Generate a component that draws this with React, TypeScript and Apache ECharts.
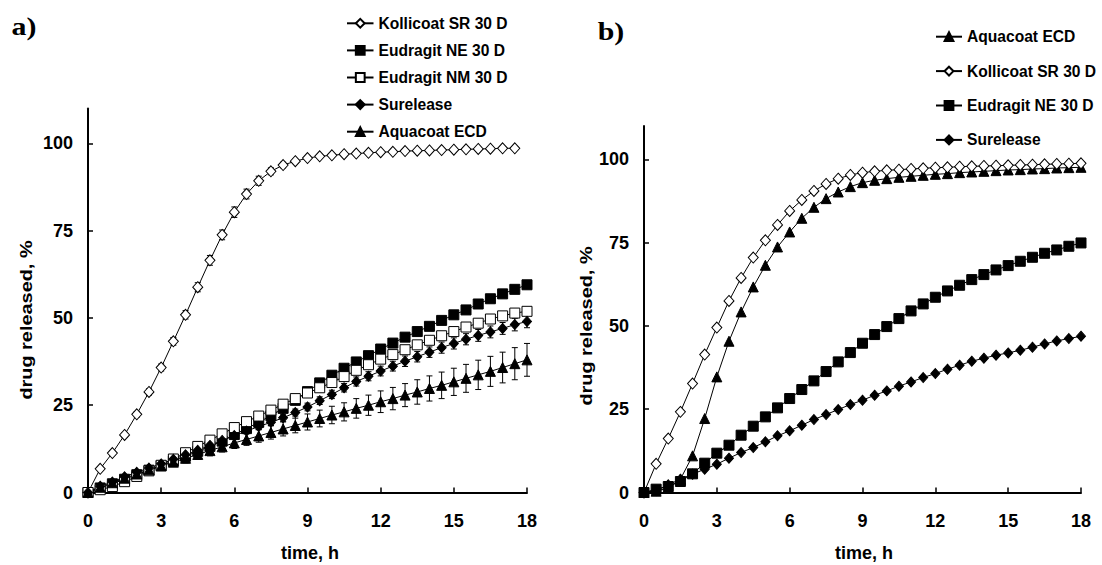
import React, { useEffect, useRef } from "react";
import * as echarts from "echarts";

// time points, h
const timesA = [0, 0.5, 1, 1.5, 2, 2.5, 3, 3.5, 4, 4.5, 5, 5.5, 6, 6.5, 7, 7.5, 8, 8.5, 9, 9.5, 10, 10.5, 11, 11.5, 12, 12.5, 13, 13.5, 14, 14.5, 15, 15.5, 16, 16.5, 17, 17.5, 18];
const timesB = timesA;
const xTicks = [0, 3, 6, 9, 12, 15, 18];
const yTicks = [0, 25, 50, 75, 100];

// panel a)
const kollicoatA = [0, 6.8, 11.3, 16.5, 22.4, 28.8, 35.8, 43.3, 50.9, 58.8, 66.5, 73.8, 80.3, 85.5, 89.3, 92.0, 93.8, 94.9, 95.8, 96.3, 96.6, 96.9, 97.1, 97.3, 97.5, 97.6, 97.8, 97.9, 98.0, 98.1, 98.2, 98.3, 98.4, 98.5, 98.6, 98.6];
const kollicoatErrA = [0, 0.5, 0.6, 0.7, 0.8, 0.9, 1.0, 1.1, 1.2, 1.3, 1.4, 1.4, 1.5, 1.4, 1.3, 1.0, 0.8, 0.6, 0.5, 0.5, 0.4, 0.4, 0.4, 0.4, 0.4, 0.4, 0.4, 0.4, 0.4, 0.4, 0.4, 0.4, 0.4, 0.4, 0.4, 0.4];
const eudragitNEA = [0, 1.3, 2.5, 3.8, 5.1, 6.4, 7.7, 9.0, 10.4, 11.8, 13.2, 14.7, 16.6, 18.3, 20.1, 22.0, 24.1, 26.4, 28.9, 31.4, 33.6, 35.6, 37.4, 39.2, 41.1, 42.8, 44.5, 46.1, 47.6, 49.3, 50.9, 52.3, 54.0, 55.5, 56.9, 58.2, 59.5];
const eudragitNMA = [0, 0.8, 1.7, 3.1, 4.6, 6.2, 7.8, 9.6, 11.4, 13.2, 15.0, 16.8, 18.6, 20.3, 21.9, 23.6, 25.3, 26.9, 28.5, 30.0, 31.5, 33.2, 35.0, 36.6, 38.2, 39.5, 40.9, 42.3, 43.6, 44.9, 46.1, 47.4, 48.5, 49.7, 50.6, 51.4, 51.9];
const sureleaseA = [0, 1.8, 3.0, 4.5, 5.8, 7.0, 8.2, 9.5, 10.8, 12.1, 13.5, 14.9, 16.3, 17.6, 18.9, 20.1, 21.4, 22.9, 24.5, 26.3, 28.1, 30.0, 31.8, 33.3, 34.8, 36.2, 37.6, 38.9, 40.2, 41.5, 42.7, 43.9, 45.0, 46.0, 47.0, 48.1, 49.0];
const sureleaseErrA = [0, 0.2, 0.3, 0.3, 0.4, 0.4, 0.5, 0.5, 0.6, 0.6, 0.7, 0.7, 0.8, 0.8, 0.9, 0.9, 1.0, 1.0, 1.1, 1.1, 1.2, 1.2, 1.3, 1.3, 1.4, 1.4, 1.5, 1.5, 1.5, 1.6, 1.6, 1.6, 1.7, 1.7, 1.7, 1.8, 1.8];
const aquacoatA = [0, 1.5, 2.8, 4.1, 5.3, 6.5, 7.6, 8.7, 9.8, 10.9, 12.0, 13.1, 14.2, 15.2, 16.2, 17.2, 18.2, 19.2, 20.2, 21.2, 22.2, 23.1, 24.1, 25.0, 26.0, 26.9, 27.9, 28.8, 29.8, 30.7, 31.7, 32.7, 33.7, 34.7, 35.8, 36.9, 38.0];
const aquacoatErrA = [0, 0.4, 0.6, 0.8, 0.9, 1.0, 1.1, 1.2, 1.3, 1.4, 1.5, 1.5, 1.6, 1.7, 1.8, 1.9, 2.0, 2.1, 2.3, 2.4, 2.5, 2.6, 2.8, 2.9, 3.1, 3.2, 3.3, 3.5, 3.6, 3.8, 3.9, 4.0, 4.2, 4.3, 4.4, 4.6, 4.7];

// panel b)
const aquacoatB = [0, 0.4, 1.4, 4.0, 11.0, 22.2, 34.7, 45.4, 54.2, 61.7, 68.2, 73.7, 78.2, 82.3, 85.6, 88.2, 90.2, 91.8, 93.0, 93.7, 94.2, 94.6, 94.9, 95.2, 95.5, 95.7, 96.0, 96.2, 96.4, 96.6, 96.8, 96.9, 97.1, 97.2, 97.4, 97.5, 97.6];
const kollicoatB = [0, 8.6, 16.2, 24.2, 32.7, 41.4, 49.5, 57.5, 64.4, 70.5, 75.7, 80.3, 84.5, 87.8, 90.5, 92.6, 94.2, 95.3, 96.0, 96.4, 96.7, 96.9, 97.1, 97.3, 97.5, 97.6, 97.8, 97.9, 98.0, 98.1, 98.2, 98.3, 98.4, 98.5, 98.6, 98.7, 98.8];
const eudragitNEB = [0, 1.0, 1.8, 3.3, 5.6, 8.8, 11.8, 14.2, 17.2, 19.9, 22.7, 25.4, 28.2, 30.9, 33.5, 36.3, 39.2, 42.0, 44.8, 47.4, 49.8, 52.2, 54.5, 56.6, 58.6, 60.5, 62.2, 63.9, 65.4, 66.8, 68.1, 69.4, 70.6, 71.8, 72.8, 73.9, 74.9];
const sureleaseB = [0, 0.6, 2.3, 4.0, 5.5, 7.0, 8.5, 10.3, 12.0, 13.5, 15.2, 17.0, 18.5, 20.2, 21.9, 23.4, 24.9, 26.4, 27.7, 29.2, 30.5, 31.9, 33.2, 34.5, 35.7, 37.0, 38.2, 39.4, 40.3, 41.2, 41.9, 42.7, 43.6, 44.6, 45.5, 46.2, 46.9];

const legendA = ["Kollicoat SR 30 D", "Eudragit NE 30 D", "Eudragit NM 30 D", "Surelease", "Aquacoat ECD"];
const legendB = ["Aquacoat ECD", "Kollicoat SR 30 D", "Eudragit NE 30 D", "Surelease"];

const FONT = '"Liberation Sans", Arial, Helvetica, sans-serif';
const SERIF = '"Liberation Serif", "Times New Roman", serif';

const pairs = (t: number[], v: number[]) => v.map((y, i) => [t[i], y]);
const triples = (t: number[], v: number[], e: number[]) => v.map((y, i) => [t[i], y, e[i]]);

const STYLE: Record<string, { symbol: string; size: any; fill: string }> = {
  "Kollicoat SR 30 D": { symbol: "diamond", size: [10, 11], fill: "#fff" },
  "Eudragit NE 30 D": { symbol: "rect", size: 10, fill: "#000" },
  "Eudragit NM 30 D": { symbol: "rect", size: 10, fill: "#fff" },
  Surelease: { symbol: "diamond", size: [9, 10], fill: "#000" },
  "Aquacoat ECD": { symbol: "triangle", size: 10, fill: "#000" },
};

function lineSeries(name: string, data: number[][], gi: number) {
  const s = STYLE[name];
  return {
    type: "line",
    name,
    xAxisIndex: gi,
    yAxisIndex: gi,
    data,
    symbol: s.symbol,
    symbolSize: s.size,
    showAllSymbol: true,
    lineStyle: { color: "#000", width: 1 },
    itemStyle: { color: s.fill, borderColor: "#000", borderWidth: 1 },
    emphasis: { disabled: true },
    z: 3,
  };
}

function errSeries(id: string, data: number[][], gi: number) {
  return {
    type: "custom",
    name: id,
    xAxisIndex: gi,
    yAxisIndex: gi,
    data,
    z: 2,
    silent: true,
    renderItem: (params: any, api: any) => {
      const x = api.value(0);
      const y = api.value(1);
      const e = api.value(2);
      const top = api.coord([x, y + e]);
      const bot = api.coord([x, y - e]);
      const st = { stroke: "#000", lineWidth: 1 };
      return {
        type: "group",
        children: [
          { type: "line", shape: { x1: top[0], y1: top[1], x2: bot[0], y2: bot[1] }, style: st },
          { type: "line", shape: { x1: top[0] - 3, y1: top[1], x2: top[0] + 3, y2: top[1] }, style: st },
          { type: "line", shape: { x1: bot[0] - 3, y1: bot[1], x2: bot[0] + 3, y2: bot[1] }, style: st },
        ],
      };
    },
  };
}

function xAxis(gi: number) {
  return {
    type: "value",
    gridIndex: gi,
    min: 0,
    max: 18,
    interval: 3,
    axisLine: { show: true, lineStyle: { color: "#000", width: 2 } },
    axisTick: { show: true, inside: true, length: 5, lineStyle: { color: "#000", width: 1.5 }, customValues: xTicks },
    axisLabel: { color: "#000", fontFamily: FONT, fontWeight: "bold", fontSize: 18, margin: 19, customValues: xTicks },
    splitLine: { show: false },
  };
}

function yAxis(gi: number) {
  return {
    type: "value",
    gridIndex: gi,
    min: 0,
    max: 110,
    interval: 25,
    axisLine: { show: true, lineStyle: { color: "#000", width: 2 } },
    axisTick: { show: true, inside: true, length: 5, lineStyle: { color: "#000", width: 1.5 }, customValues: yTicks },
    axisLabel: { color: "#000", fontFamily: FONT, fontWeight: "bold", fontSize: 18, margin: 15, customValues: yTicks },
    splitLine: { show: false },
  };
}

function legend(data: string[], left: number, top: number, gap: number, w: number) {
  return {
    orient: "vertical",
    left,
    top,
    data,
    itemWidth: w,
    itemHeight: 11,
    itemGap: gap,
    selectedMode: false,
    textStyle: { color: "#000", fontFamily: FONT, fontWeight: "bold", fontSize: 15.6, lineHeight: 17 },
  };
}

const yTitle = (x: number, y: number) => ({
  type: "text",
  x,
  y,
  rotation: Math.PI / 2,
  scaleX: 1.17,
  style: { text: "drug released, %", fill: "#000", font: `bold 17px ${FONT}`, align: "center", verticalAlign: "middle" },
});

const xTitle = (x: number, y: number) => ({
  type: "text",
  x,
  y,
  style: { text: "time, h", fill: "#000", font: `bold 18px ${FONT}`, align: "center", verticalAlign: "middle" },
});

const panelLabel = (text: string, x: number, y: number) => ({
  type: "text",
  x,
  y,
  scaleX: 1.15,
  style: { text, fill: "#000", font: `bold 26px ${SERIF}`, align: "center", verticalAlign: "middle" },
});

export default function App() {
  const ref = useRef<HTMLDivElement>(null);
  useEffect(() => {
    if (!ref.current) return;
    const chart = echarts.init(ref.current, undefined, { renderer: "svg" });
    const option: any = {
      animation: false,
      backgroundColor: "#fff",
      grid: [
        { left: 88, top: 108.5, width: 439, height: 384, outerBoundsMode: "none" },
        { left: 644, top: 126, width: 437, height: 366.5, outerBoundsMode: "none" },
      ],
      xAxis: [xAxis(0), xAxis(1)],
      yAxis: [yAxis(0), yAxis(1)],
      legend: [legend(legendA, 341, 9.8, 10.1, 26.5), legend(legendB, 930, 23.2, 17.4, 26)],
      graphic: [
        panelLabel("a)", 24, 26),
        panelLabel("b)", 611, 31),
        yTitle(26, 320),
        yTitle(586, 326),
        xTitle(310, 553),
        xTitle(864, 553),
      ],
      series: [
        errSeries("errKollA", triples(timesA, kollicoatA, kollicoatErrA), 0),
        errSeries("errSureA", triples(timesA, sureleaseA, sureleaseErrA), 0),
        errSeries("errAquaA", triples(timesA, aquacoatA, aquacoatErrA), 0),
        lineSeries("Kollicoat SR 30 D", pairs(timesA, kollicoatA), 0),
        lineSeries("Eudragit NE 30 D", pairs(timesA, eudragitNEA), 0),
        lineSeries("Eudragit NM 30 D", pairs(timesA, eudragitNMA), 0),
        lineSeries("Surelease", pairs(timesA, sureleaseA), 0),
        lineSeries("Aquacoat ECD", pairs(timesA, aquacoatA), 0),
        lineSeries("Aquacoat ECD", pairs(timesB, aquacoatB), 1),
        lineSeries("Kollicoat SR 30 D", pairs(timesB, kollicoatB), 1),
        lineSeries("Eudragit NE 30 D", pairs(timesB, eudragitNEB), 1),
        lineSeries("Surelease", pairs(timesB, sureleaseB), 1),
      ],
    };
    chart.setOption(option);
    return () => chart.dispose();
  }, []);
  return <div ref={ref} style={{ position: "fixed", left: 0, top: 0, width: 1102, height: 565, background: "#fff" }} />;
}
